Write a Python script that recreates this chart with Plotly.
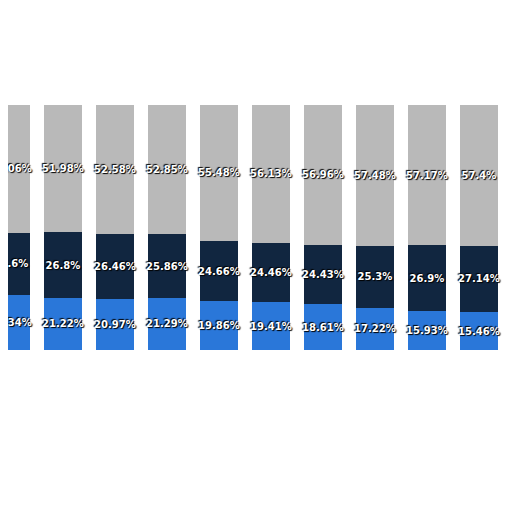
import plotly.graph_objects as go

cats = list(range(10))
blue = [22.34, 21.22, 20.97, 21.29, 19.86, 19.41, 18.61, 17.22, 15.93, 15.46]
navy = [25.6, 26.8, 26.46, 25.86, 24.66, 24.46, 24.43, 25.3, 26.9, 27.14]
gray = [52.06, 51.98, 52.58, 52.85, 55.48, 56.13, 56.96, 57.48, 57.17, 57.4]

fig = go.Figure()
font = dict(family="DejaVu Sans", size=10, color="white", weight="bold",
            shadow="1px 1px 1px black, -1px -1px 1px black")
for vals, col in [(blue, "#2a77d9"), (navy, "#112640"), (gray, "#b9b9b9")]:
    fig.add_trace(go.Bar(x=cats, y=vals, marker_color=col, width=0.73,
                         marker_line_width=0,
                         text=[f"{v}%" for v in vals], textposition="inside",
                         insidetextanchor="middle", textangle=0,
                         textfont=font, cliponaxis=False))

fig.update_layout(barmode="stack", width=512, height=512,
                  margin=dict(l=0, r=0, t=0, b=0),
                  plot_bgcolor="white", paper_bgcolor="white",
                  showlegend=False, uniformtext=dict(minsize=10, mode="show"))
fig.update_xaxes(range=[-0.056, 9.79], visible=False)
fig.update_yaxes(range=[-69.4, 139.6], visible=False)
fig.write_html("out.html")
